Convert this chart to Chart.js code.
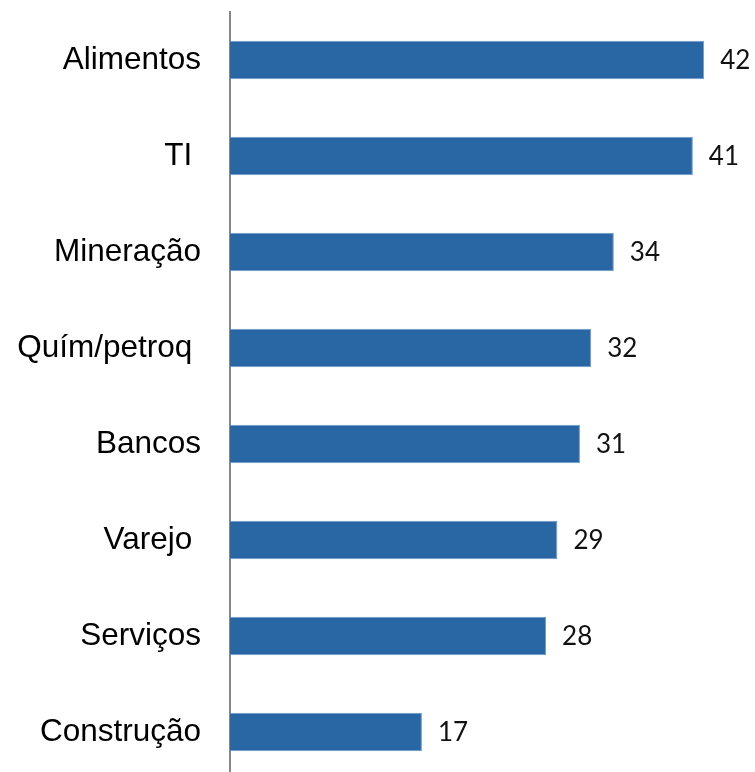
<!doctype html>
<html lang="pt">
<head>
<meta charset="utf-8">
<title>Setores</title>
<script src="https://cdn.jsdelivr.net/npm/chart.js@4/dist/chart.umd.min.js"></script>
<style>
  html, body { margin: 0; padding: 0; background: #fff; overflow: hidden; }
  #wrap { width: 755px; height: 772px; overflow: hidden; }
</style>
</head>
<body>
<div id="wrap"><canvas id="grafico" width="755" height="780"></canvas></div>
<script>
// setores e valores (ordem de cima para baixo)
var setores = ["Alimentos", "TI ", "Mineração", "Quím/petroq ", "Bancos", "Varejo ", "Serviços", "Construção"];
var valores = [42, 41, 34, 32, 31, 29, 28, 17];

// escreve o valor ao lado de cada barra
var rotulos = {
  id: 'rotulos',
  afterDatasetsDraw: function(chart) {
    var ctx = chart.ctx;
    var meta = chart.getDatasetMeta(0);
    ctx.save();
    ctx.font = '26px Lato, "Open Sans", sans-serif';
    ctx.fillStyle = '#111';
    ctx.textAlign = 'left';
    ctx.textBaseline = 'middle';
    meta.data.forEach(function(bar, i) {
      ctx.fillText(String(valores[i]), bar.x + 16, bar.y + 1);
    });
    ctx.restore();
  }
};

new Chart(document.getElementById('grafico'), {
  type: 'bar',
  data: {
    labels: setores,
    datasets: [{
      data: valores,
      backgroundColor: '#2866a4',
      borderColor: '#6f9bcb',
      borderWidth: 1,
      borderSkipped: 'left',
      barPercentage: 0.4,
      categoryPercentage: 1
    }]
  },
  options: {
    indexAxis: 'y',
    responsive: false,
    animation: false,
    layout: { padding: { top: 12, right: 17, left: 0, bottom: 0 } },
    plugins: { legend: { display: false }, tooltip: { enabled: false } },
    scales: {
      x: { display: false, min: 0, max: 45 },
      y: {
        grid: { display: false, drawTicks: false },
        border: { display: true, color: '#878787', width: 2 },
        ticks: {
          color: '#000',
          padding: 29,
          font: { family: '"Liberation Sans", Arial, sans-serif', size: 31.5 }
        },
        afterFit: function(scale) {
          // largura fixa do eixo e sem folga extra em cima/embaixo
          scale.width = 230;
          scale.paddingTop = 0;
          scale.paddingBottom = 0;
        }
      }
    }
  },
  plugins: [rotulos]
});
</script>
</body>
</html>
